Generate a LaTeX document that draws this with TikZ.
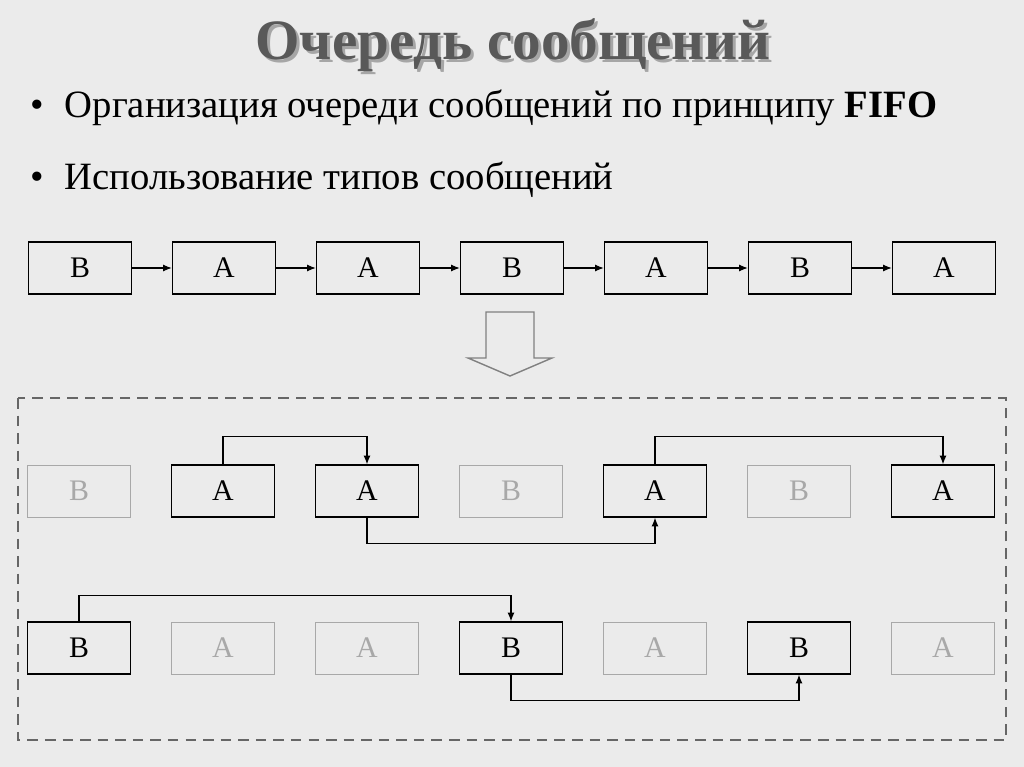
\documentclass[tikz,border=0pt]{standalone}
\usepackage{fontspec}
\setmainfont{Liberation Serif}
\usetikzlibrary{arrows.meta}
\definecolor{bg}{HTML}{EBEBEB}
\definecolor{faded}{HTML}{A8A8A8}
\begin{document}
\begin{tikzpicture}[x=0.02cm,y=-0.02cm,
  box/.style={draw,thick,minimum width=2.06cm,minimum height=1.04cm,inner sep=0pt,font=\fontsize{17}{19}\selectfont},
  fbox/.style={box,draw=faded,text=faded,thin},
  conn/.style={semithick,-{Latex[length=5pt,width=4pt]}}]
\fill[bg] (0,0) rectangle (1024,767);
\useasboundingbox (0,0) rectangle (1024,767);
\node[text=black!35,font=\fontsize{32.5}{36}\selectfont\bfseries] at (516,48) {Очередь сообщений};
\node[text=black!65,font=\fontsize{32.5}{36}\selectfont\bfseries] (title) at (513,45) {Очередь сообщений};
\node[anchor=west,font=\fontsize{22}{26}\selectfont] (b1) at (24,108) {•\hspace{12pt}Организация очереди сообщений по принципу \textbf{FIFO}};
\node[anchor=west,font=\fontsize{22}{26}\selectfont] (b2) at (24,180) {•\hspace{12pt}Использование типов сообщений};
% row 1
\foreach \i/\l in {0/B,1/A,2/A,3/B,4/A,5/B,6/A}{
  \node[box] (r\i) at (80+144*\i,268) {\l};}
\foreach \i [evaluate=\i as \j using int(\i+1)] in {0,...,5}{
  \draw[conn] (r\i) -- (r\j);}
% block arrow
\draw[gray,thick] (486,312) -- (534,312) -- (534,358) -- (552,358) -- (510,376) -- (468,358) -- (486,358) -- cycle;
% dashed frame
\draw[gray!80!black,thick,dash pattern=on 6pt off 4pt] (18,398) rectangle (1006,740);
% row 2
\foreach \i/\l/\s in {0/B/fbox,1/A/box,2/A/box,3/B/fbox,4/A/box,5/B/fbox,6/A/box}{
  \node[\s] (s\i) at (79+144*\i,491) {\l};}
\draw[conn] (s1.north) -- ++(0,-28) -| (s2.north);
\draw[conn] (s2.south) -- ++(0,26) -| (s4.south);
\draw[conn] (s4.north) -- ++(0,-28) -| (s6.north);
% row 3
\foreach \i/\l/\s in {0/B/box,1/A/fbox,2/A/fbox,3/B/box,4/A/fbox,5/B/box,6/A/fbox}{
  \node[\s] (t\i) at (79+144*\i,648) {\l};}
\draw[conn] (t0.north) -- ++(0,-26) -| (t3.north);
\draw[conn] (t3.south) -- ++(0,26) -| (t5.south);
\end{tikzpicture}
\end{document}
